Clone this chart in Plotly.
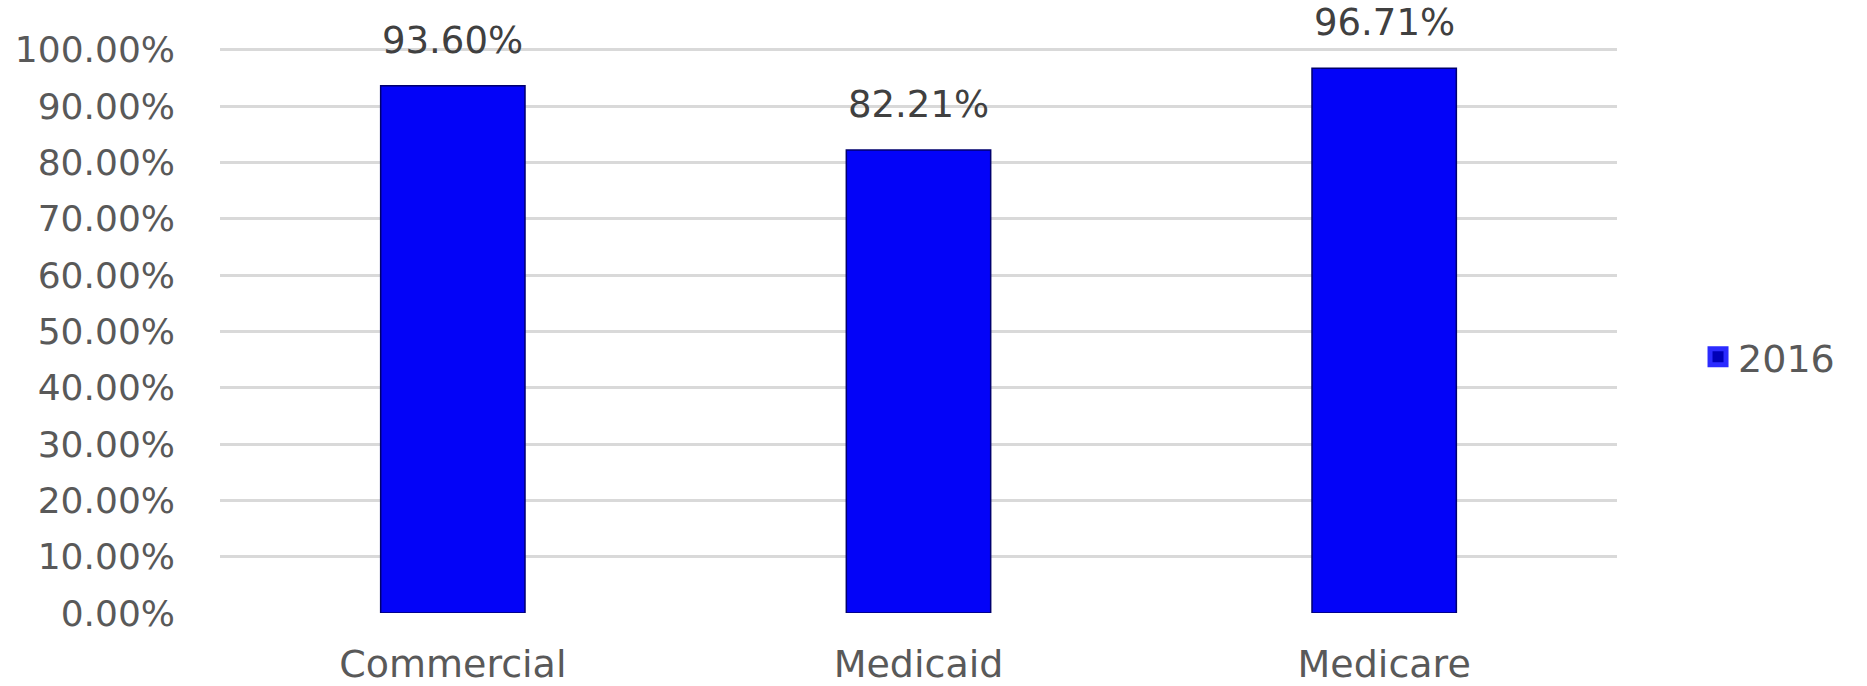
import plotly.graph_objects as go

categories = ["Commercial", "Medicaid", "Medicare"]
values_2016 = [0.9360, 0.8221, 0.9671]
series_name = "2016"
y_ticks = [i / 10 for i in range(11)]

W, H = 1867, 686
L, R, T, B = 220, 250, 48, 73
FONT = "DejaVu Sans"

fig = go.Figure()
fig.add_trace(go.Bar(
    x=categories,
    y=values_2016,
    name=series_name,
    width=0.31,
    marker=dict(color="#0303F8", line=dict(color="#00006e", width=1.5)),
    showlegend=False,
))
# legend entry (square swatch)
fig.add_trace(go.Scatter(
    x=[None], y=[None], mode="markers", name=series_name,
    marker=dict(symbol="square", size=28, color="#0000b8",
                line=dict(color="#2b2bff", width=5)),
    showlegend=True,
))

for c, v in zip(categories, values_2016):
    fig.add_annotation(
        x=c, y=v, text=f"{v*100:.2f}%", showarrow=False,
        yanchor="bottom", yshift=22,
        font=dict(family=FONT, size=37, color="#404040"),
    )

fig.update_layout(
    width=W, height=H,
    margin=dict(l=L, r=R, t=T, b=B, pad=0, autoexpand=False),
    paper_bgcolor="white", plot_bgcolor="white",
    font=dict(family=FONT, size=36, color="#595959"),
    showlegend=True,
    legend=dict(x=1.058, y=0.453, xanchor="left", yanchor="middle",
                itemsizing="trace",
                font=dict(family=FONT, size=38, color="#595959"),
                bgcolor="rgba(0,0,0,0)"),
)
fig.update_xaxes(
    type="category", categoryorder="array", categoryarray=categories,
    range=[-0.5, 2.5], showgrid=False, zeroline=False, showline=False,
    ticks="", ticklabelstandoff=25, automargin=False,
    tickfont=dict(family=FONT, size=38, color="#595959"),
)
fig.update_yaxes(
    range=[0, 1.003], tickvals=y_ticks, tickformat=".2%",
    showgrid=True, gridcolor="#d9d9d9", gridwidth=2.5,
    zeroline=False, showline=False, ticks="", ticklabelstandoff=44,
    automargin=False,
    tickfont=dict(family=FONT, size=36, color="#595959"),
)

page_js = (
    "document.body.style.margin='0';"
    "document.body.style.padding='0';"
    "document.documentElement.style.overflow='hidden';"
    "document.body.style.overflow='hidden';"
)
fig.write_html("out.html", post_script=page_js,
               config={"displayModeBar": False})
